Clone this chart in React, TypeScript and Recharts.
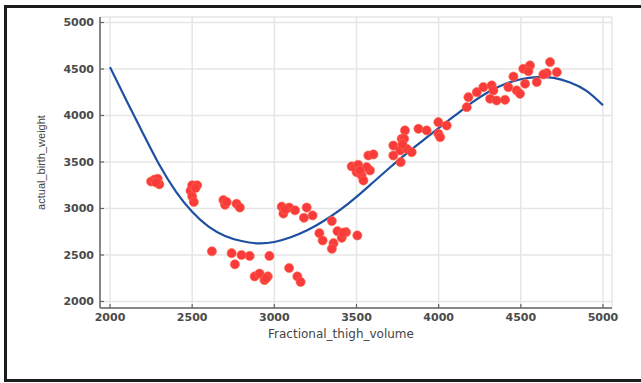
import React from "react";
import { ComposedChart, Line, Scatter, XAxis, YAxis, CartesianGrid, Label } from "recharts";

const xTicks = [2000, 2500, 3000, 3500, 4000, 4500, 5000];
const yTicks = [2000, 2500, 3000, 3500, 4000, 4500, 5000];

const xTitle = "Fractional_thigh_volume";
const yTitle = "actual_birth_weight";

// fitted curve
const curveX = [2000, 2100, 2200, 2300, 2400, 2500, 2600, 2700, 2800, 2900, 3000, 3100, 3200, 3300, 3400, 3500, 3600, 3700, 3800, 3900, 4000, 4100, 4200, 4300, 4400, 4500, 4600, 4700, 4800, 4900, 5000];
const curveY = [4520, 4160, 3810, 3470, 3185, 2965, 2805, 2705, 2650, 2625, 2640, 2690, 2765, 2865, 2985, 3125, 3280, 3435, 3585, 3725, 3865, 4000, 4135, 4250, 4335, 4390, 4412, 4405, 4355, 4265, 4110];

// observed points
const dotX = [
  2250, 2270, 2290, 2300, 2280,
  2490, 2500, 2510, 2500, 2530, 2520,
  2690, 2700, 2710, 2770, 2790,
  2620, 2740, 2760, 2800, 2850, 2880, 2910, 2940, 2960, 2950, 2970,
  3090, 3140, 3160,
  3045, 3055, 3090, 3126, 3197, 3233, 3180, 3065,
  3350, 3274, 3294, 3384, 3436, 3410, 3360, 3350, 3505, 3420,
  3471, 3501, 3531, 3542, 3582, 3562, 3490, 3510, 3520, 3572, 3603,
  3724, 3724, 3775, 3795, 3765, 3806, 3836, 3769, 3790, 3780,
  3877, 3927, 3998, 4049, 3998, 4009,
  4171, 4181, 4232, 4272, 4323, 4333, 4313, 4353, 4404, 4455, 4424, 4475, 4495, 4526, 4515, 4556, 4546, 4597, 4678, 4658, 4719, 4637,
];
const dotY = [
  3290, 3310, 3320, 3260, 3280,
  3190, 3130, 3070, 3250, 3250, 3220,
  3090, 3040, 3070, 3050, 3010,
  2540, 2520, 2400, 2500, 2490, 2270, 2300, 2230, 2270, 2250, 2490,
  2360, 2270, 2210,
  3020, 2945, 3010, 2980, 3010, 2925, 2900, 2990,
  2865, 2735, 2656, 2756, 2745, 2685, 2627, 2566, 2710, 2740,
  3452, 3391, 3355, 3301, 3409, 3444, 3440, 3470, 3410, 3570, 3581,
  3677, 3570, 3749, 3839, 3624, 3642, 3606, 3498, 3750, 3690,
  3857, 3839, 3928, 3892, 3803, 3767,
  4089, 4197, 4251, 4305, 4323, 4269, 4180, 4161, 4168, 4419, 4305, 4269, 4233, 4341, 4502, 4538, 4477, 4359, 4574, 4455, 4466, 4441,
];

const curveData = curveX.map((x, i) => ({ x, fit: curveY[i] }));
const dotData = dotX.map((x, i) => ({ x, weight: dotY[i] }));

const tickFont = { fontFamily: "DejaVu Sans, sans-serif", fontSize: 11, fontWeight: 700, fill: "#4a4a4a" };

const XTick = (props: any) => {
  const { x, y, payload } = props;
  return (
    <g>
      <line x1={x} x2={x} y1={y - 5} y2={y - 9} stroke="#666" strokeWidth={1.2} />
      <text x={x} y={y} dy="0.75em" textAnchor="middle" {...tickFont}>{payload.value}</text>
    </g>
  );
};

const YTick = (props: any) => {
  const { x, y, payload } = props;
  return (
    <g>
      <line x1={x + 6} x2={x + 10} y1={y} y2={y} stroke="#666" strokeWidth={1.2} />
      <text x={x} y={y} dy="0.36em" textAnchor="end" {...tickFont}>{payload.value}</text>
    </g>
  );
};

const Dot = (props: any) => {
  const { cx, cy } = props;
  if (cx == null || cy == null) return null;
  return <circle cx={cx} cy={cy} r={4.6} fill="#f93b3b" stroke="#ff6a4a" strokeWidth={0.6} />;
};

export default function App() {
  return (
    <div style={{ position: "absolute", left: 0, top: 0, width: 641, height: 383, background: "#fff", overflow: "hidden" }}>
      <div
        style={{
          position: "absolute",
          left: 4,
          top: 5,
          width: 637,
          height: 377,
          boxSizing: "border-box",
          borderTop: "3px solid #1c1c1c",
          borderLeft: "3px solid #1c1c1c",
          borderBottom: "3px solid #1c1c1c",
        }}
      />
      <div style={{ position: "absolute", left: 0, top: 0 }}>
        <ComposedChart width={641} height={383} margin={{ top: 17, right: 29, left: 0, bottom: 45 }}>
          <CartesianGrid stroke="#e6e6e6" strokeWidth={1.5} />
          <XAxis
            dataKey="x"
            type="number"
            domain={[1939, 5055]}
            ticks={xTicks}
            allowDataOverflow
            height={30}
            tickSize={0}
            tickMargin={5}
            tick={<XTick />}
            axisLine={{ stroke: "#666", strokeWidth: 1.5 }}
            interval={0}
          >
            <Label
              value={xTitle}
              position="insideBottom"
              offset={0}
              dx={-15}
              style={{ fontFamily: "DejaVu Sans, sans-serif", fontSize: 12, fill: "#444" }}
            />
          </XAxis>
          <YAxis
            type="number"
            domain={[1930, 5059]}
            ticks={yTicks}
            allowDataOverflow
            width={100}
            tickSize={0}
            tickMargin={6}
            tick={<YTick />}
            axisLine={{ stroke: "#666", strokeWidth: 1.5 }}
            interval={0}
          >
            <Label
              value={yTitle}
              angle={-90}
              position="center"
              dx={-9}
              style={{ fontFamily: "Liberation Sans, Arial, sans-serif", fontSize: 11, fill: "#444", textAnchor: "middle" }}
            />
          </YAxis>
          <Line
            data={curveData}
            dataKey="fit"
            type="natural"
            stroke="#1f4fa0"
            strokeWidth={2.2}
            dot={false}
            activeDot={false}
            isAnimationActive={false}
          />
          <Scatter data={dotData} dataKey="weight" shape={<Dot />} isAnimationActive={false} />
        </ComposedChart>
      </div>
    </div>
  );
}
